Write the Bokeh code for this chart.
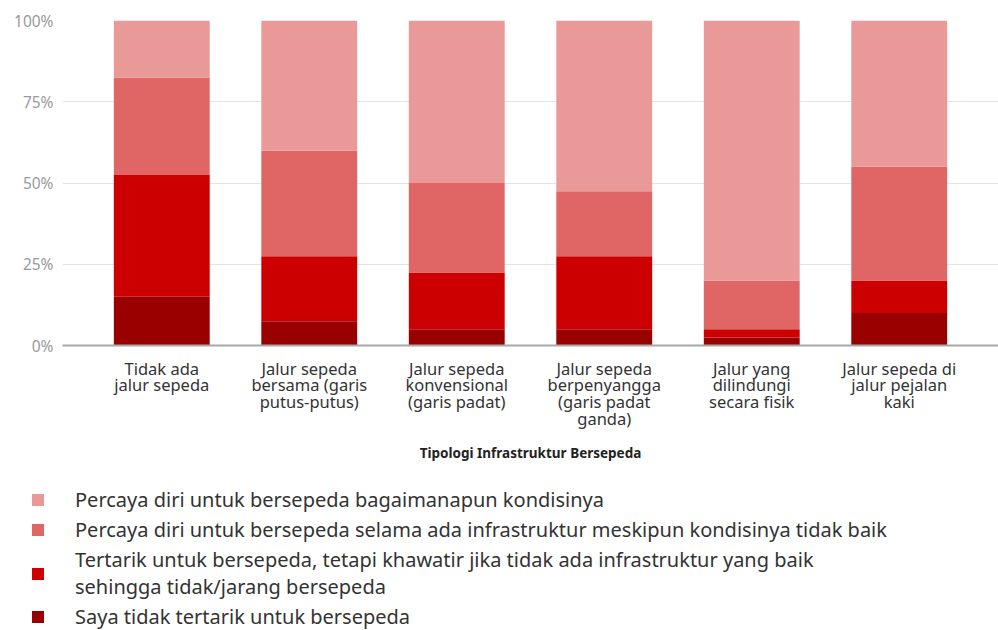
from bokeh.plotting import figure
from bokeh.layouts import column
from bokeh.models import FactorRange, Range1d, FixedTicker, PrintfTickFormatter, Legend, LegendItem, ColumnDataSource
from bokeh.embed import file_html
from bokeh.resources import INLINE

categories = [
    "Tidak ada\njalur sepeda",
    "Jalur sepeda\nbersama (garis\nputus-putus)",
    "Jalur sepeda\nkonvensional\n(garis padat)",
    "Jalur sepeda\nberpenyangga\n(garis padat\nganda)",
    "Jalur yang\ndilindungi\nsecara fisik",
    "Jalur sepeda di\njalur pejalan\nkaki",
]
tidak_tertarik = [15, 7.5, 5, 5, 2.5, 10]
tertarik_khawatir = [37.5, 20, 17.5, 22.5, 2.5, 10]
percaya_infrastruktur = [30, 32.5, 27.5, 20, 15, 35]
percaya_bagaimanapun = [17.5, 40, 50, 52.5, 80, 45]

series_keys = ["tidak_tertarik", "tertarik_khawatir", "percaya_infrastruktur", "percaya_bagaimanapun"]
series_labels = [
    "Saya tidak tertarik untuk bersepeda",
    "Tertarik untuk bersepeda, tetapi khawatir jika tidak ada infrastruktur yang baik\nsehingga tidak/jarang bersepeda",
    "Percaya diri untuk bersepeda selama ada infrastruktur meskipun kondisinya tidak baik",
    "Percaya diri untuk bersepeda bagaimanapun kondisinya",
]
colors = ["#990000", "#cc0000", "#e06666", "#ea9999"]
y_ticks = [0, 25, 50, 75, 100]
x_title = "Tipologi Infrastruktur Bersepeda"

source = ColumnDataSource(dict(
    cat=categories,
    tidak_tertarik=tidak_tertarik,
    tertarik_khawatir=tertarik_khawatir,
    percaya_infrastruktur=percaya_infrastruktur,
    percaya_bagaimanapun=percaya_bagaimanapun,
))

TOP_H = 475
p = figure(
    x_range=FactorRange(factors=categories, range_padding=0.173, range_padding_units="absolute"),
    y_range=Range1d(0, 100),
    width=998, height=TOP_H,
    output_backend="svg", toolbar_location=None,
    min_border_left=62, min_border_right=0, min_border_top=20, min_border_bottom=TOP_H - 345,
)
p.outline_line_color = None

renderers = p.vbar_stack(series_keys, x="cat", width=0.65, source=source,
                         color=colors, line_color=None)

p.xgrid.grid_line_color = None
p.ygrid.grid_line_color = "#e3e3e3"
p.ygrid.grid_line_width = 1
p.yaxis.ticker = FixedTicker(ticks=y_ticks)
p.yaxis.formatter = PrintfTickFormatter(format="%d%%")
p.yaxis.axis_line_color = None
p.yaxis.major_tick_line_color = None
p.yaxis.minor_tick_line_color = None
p.yaxis.major_tick_out = 0
p.yaxis.major_tick_in = 0
p.yaxis.major_label_standoff = 9
p.yaxis.major_label_text_color = "#9a9a9a"
p.yaxis.major_label_text_font = "Noto Sans"
p.yaxis.major_label_text_font_size = "15.5px"

p.xaxis.axis_line_color = "#a8a8a8"
p.xaxis.axis_line_width = 2
p.xaxis.major_tick_line_color = None
p.xaxis.minor_tick_line_color = None
p.xaxis.major_tick_out = 0
p.xaxis.major_tick_in = 0
p.xaxis.major_label_standoff = 11
p.xaxis.major_label_text_color = "#333333"
p.xaxis.major_label_text_font = "Noto Sans"
p.xaxis.major_label_text_font_size = "16.5px"
p.xaxis.major_label_text_line_height = 0.73
p.xaxis.axis_label = x_title
p.xaxis.axis_label_text_font = "Noto Sans"
p.xaxis.axis_label_text_font_style = "bold"
p.xaxis.axis_label_text_font_size = "13.5px"
p.xaxis.axis_label_text_color = "#222222"
p.xaxis.axis_label_standoff = 11

# legend panel (separate figure so the legend can span the full width)
LEG_H = 630 - TOP_H
p2 = figure(
    x_range=FactorRange(factors=categories), y_range=Range1d(0, 100),
    width=998, height=LEG_H, output_backend="svg", toolbar_location=None,
    x_axis_type=None, y_axis_type=None,
    min_border_left=0, min_border_right=0, min_border_top=0, min_border_bottom=0,
)
p2.outline_line_color = None
p2.grid.grid_line_color = None
leg_renderers = p2.vbar_stack(series_keys, x="cat", width=0.65, source=source,
                              color=colors, line_color=None, visible=False)

items = [LegendItem(label=series_labels[i], renderers=[leg_renderers[i]]) for i in range(3, -1, -1)]
legend = Legend(
    items=items, location=(30, 0),
    padding=0, margin=0, border_line_color=None, background_fill_alpha=0,
    glyph_width=15, glyph_height=15, label_standoff=30, spacing=3,
    label_text_font="Noto Sans", label_text_font_size="20px", label_text_color="#333333",
    label_text_line_height=0.75,
)
p2.add_layout(legend, "center")

layout = column(p, column(p2, spacing=0), spacing=0)
open("out.html", "w").write(file_html(layout, INLINE))
